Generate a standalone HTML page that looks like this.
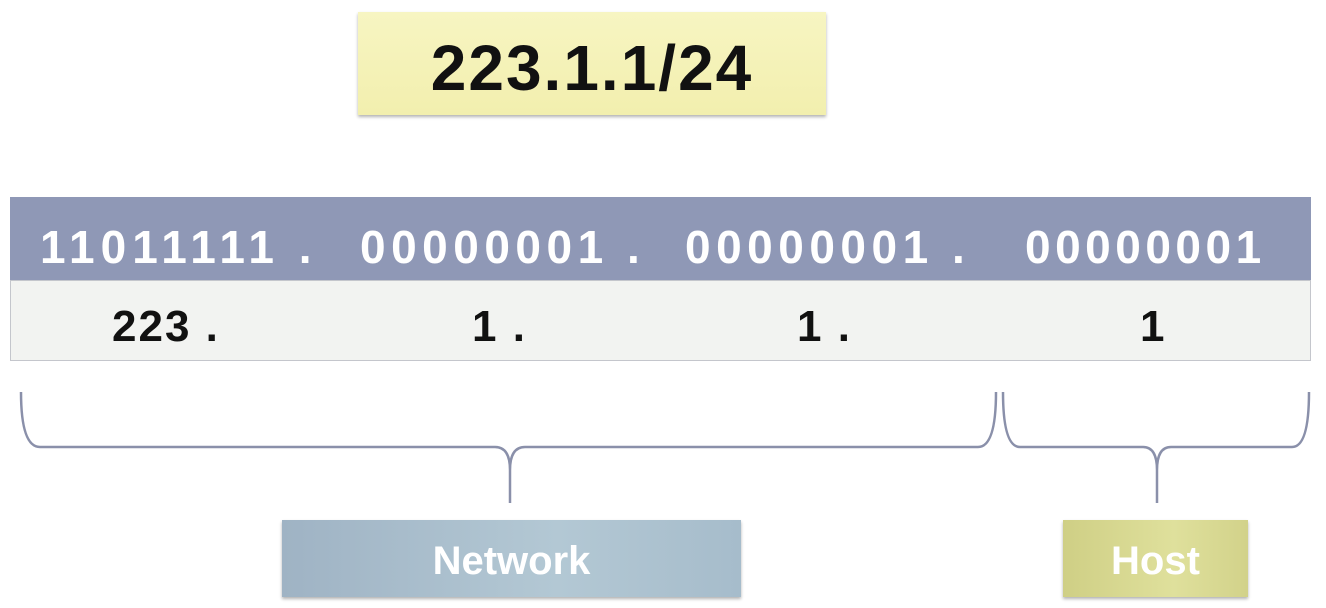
<!DOCTYPE html>
<html><head><meta charset="utf-8"><style>
body{margin:0;width:1326px;height:608px;background:#fff;position:relative;overflow:hidden;font-family:"Liberation Sans",sans-serif;font-weight:bold}
.abs{position:absolute}
.t{position:absolute;white-space:pre;line-height:1}
</style></head><body>
<div class="abs" style="left:358px;top:12px;width:468px;height:103px;background:linear-gradient(#f7f5c2,#f2efae);box-shadow:0 2px 3px rgba(0,0,0,.3)"></div>
<div class="t" style="left:358px;width:468px;text-align:center;top:36px;font-size:64px;letter-spacing:2px;color:#111">223.1.1/24</div>

<div class="abs" style="left:10px;top:197px;width:1301px;height:83px;background:#8f98b6"></div>
<div class="abs" style="left:10px;top:280px;width:1299px;height:79px;background:#f2f3f1;border:1px solid #c4c6cc"></div>

<div class="t" style="left:40px;top:224px;font-size:46px;color:#fff;letter-spacing:6px">11011111 .</div>
<div class="t" style="left:360px;top:224px;font-size:46px;color:#fff;letter-spacing:5.5px">00000001 .</div>
<div class="t" style="left:685px;top:224px;font-size:46px;color:#fff;letter-spacing:5.5px">00000001 .</div>
<div class="t" style="left:1025px;top:224px;font-size:46px;color:#fff;letter-spacing:4.5px">00000001</div>

<div class="t" style="left:112px;top:305px;font-size:44px;color:#111;letter-spacing:2px">223 .</div>
<div class="t" style="left:472px;top:305px;font-size:44px;color:#111;letter-spacing:2px">1 .</div>
<div class="t" style="left:797px;top:305px;font-size:44px;color:#111;letter-spacing:2px">1 .</div>
<div class="t" style="left:1140px;top:305px;font-size:44px;color:#111">1</div>

<svg class="abs" style="left:0;top:0" width="1326" height="608">
<path fill="none" stroke="#8a90aa" stroke-width="2.5" d="M21 392 Q21 447 40 447 L495 447 Q510 447 510 470 L510 503 M510 470 Q510 447 525 447 L978 447 Q996 447 996 392"/>
<path fill="none" stroke="#8a90aa" stroke-width="2.5" d="M1003 392 Q1003 447 1020 447 L1143 447 Q1157 447 1157 470 L1157 503 M1157 470 Q1157 447 1171 447 L1292 447 Q1309 447 1309 392"/>
</svg>

<div class="abs" style="left:282px;top:520px;width:459px;height:77px;background:linear-gradient(90deg,#9fb3c4,#b3c8d4 60%,#a6bccb);box-shadow:0 2px 3px rgba(0,0,0,.3)"></div>
<div class="t" style="left:282px;width:459px;text-align:center;top:541px;font-size:40px;color:#fff">Network</div>
<div class="abs" style="left:1063px;top:520px;width:185px;height:77px;background:linear-gradient(90deg,#cfcf85,#dfe09c 60%,#d2d28a);box-shadow:0 2px 3px rgba(0,0,0,.3)"></div>
<div class="t" style="left:1063px;width:185px;text-align:center;top:541px;font-size:40px;color:#fff">Host</div>
</body></html>
